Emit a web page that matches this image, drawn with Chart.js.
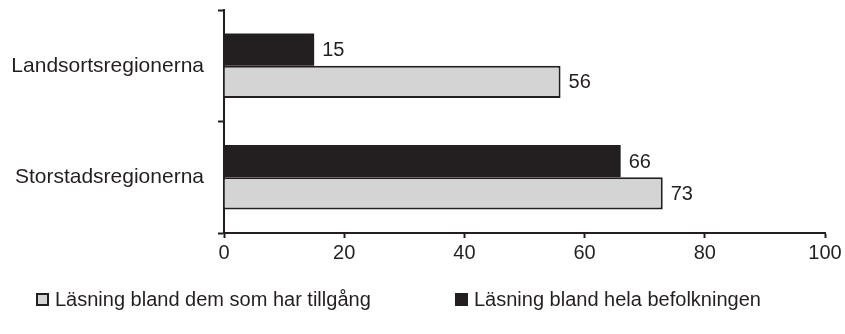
<!DOCTYPE html>
<html>
<head>
<meta charset="utf-8">
<script src="https://cdn.jsdelivr.net/npm/chart.js@4/dist/chart.umd.min.js"></script>
<style>
    html, body { margin: 0; padding: 0; background: #fff; }
    #wrap { position: relative; width: 845px; height: 334px; }
    #legend {
        position: absolute; left: 0; top: 288px; width: 845px; height: 22px;
        font: 20px 'Liberation Sans', Arial, sans-serif; color: #231f20;
    }
    #legend .item { position: absolute; top: 0; display: flex; align-items: center; height: 22px; white-space: nowrap; }
    #legend .box { box-sizing: border-box; width: 13px; height: 13px; margin-right: 6px; }
</style>
</head>
<body>
<div id="wrap">
    <canvas id="chart" width="845" height="334"></canvas>
    <div id="legend"></div>
</div>
<script>
// Chart data
const categories = ['Landsortsregionerna', 'Storstadsregionerna'];
const helaBefolkningen = [15, 66];
const demMedTillgang = [56, 73];
const seriesNames = ['Läsning bland hela befolkningen', 'Läsning bland dem som har tillgång'];

const FONT = '\'Liberation Sans\', Arial, sans-serif';
const INK = '#231f20';

// Write the value at the end of each bar
const pluginBarValues = {
    id: 'barValues',
    afterDatasetsDraw: function(chart) {
        'use strict';
        const ctx = chart.ctx;
        ctx.save();
        ctx.font = '20px ' + FONT;
        ctx.fillStyle = INK;
        ctx.textBaseline = 'middle';
        ctx.textAlign = 'left';
        chart.data.datasets.forEach(function(ds, i) {
            const meta = chart.getDatasetMeta(i);
            meta.data.forEach(function(bar, j) {
                ctx.fillText(String(ds.data[j]), bar.x + 8, bar.y + 1);
            });
        });
        ctx.restore();
    },
};

const chart = new Chart(document.getElementById('chart'), {
    type: 'bar',
    data: {
        labels: categories,
        datasets: [
            {
                label: seriesNames[0],
                data: helaBefolkningen,
                backgroundColor: INK,
                borderColor: INK,
                borderWidth: 0,
            },
            {
                label: seriesNames[1],
                data: demMedTillgang,
                backgroundColor: '#d4d4d4',
                borderColor: INK,
                borderWidth: 2,
                borderSkipped: 'start',
            },
        ],
    },
    options: {
        indexAxis: 'y',
        responsive: false,
        animation: false,
        categoryPercentage: 0.58,
        barPercentage: 1.0,
        layout: {padding: {top: 10, right: 20, bottom: 61, left: 0}},
        plugins: {
            legend: {display: false},
            tooltip: {enabled: false},
        },
        scales: {
            x: {
                type: 'linear',
                min: 0,
                max: 100,
                ticks: {stepSize: 20, color: INK, font: {family: FONT, size: 20}, padding: 3},
                grid: {drawOnChartArea: false, tickLength: 5, tickWidth: 2, color: INK},
                border: {color: INK, width: 2},
                afterFit: function(scale) {
                    scale.height = 40;
                    scale.paddingLeft = 0;
                    scale.paddingRight = 0;
                },
            },
            y: {
                ticks: {color: INK, font: {family: FONT, size: 21}, padding: 14},
                grid: {drawOnChartArea: false, tickLength: 6, tickWidth: 2, color: INK, offset: true},
                border: {color: INK, width: 2},
                afterFit: function(scale) {
                    scale.width = 224;
                    scale.paddingTop = 0;
                    scale.paddingBottom = 0;
                },
            },
        },
    },
    plugins: [pluginBarValues],
});

// Legend, gray series first as in the original
const legendPos = [{box: 36, idx: 1}, {box: 455, idx: 0}];
const legendEl = document.getElementById('legend');
for (const p of legendPos) {
    const ds = chart.data.datasets[p.idx];
    const item = document.createElement('div');
    item.className = 'item';
    item.style.left = p.box + 'px';
    const box = document.createElement('span');
    box.className = 'box';
    box.style.background = ds.backgroundColor;
    box.style.border = '2px solid ' + INK;
    item.appendChild(box);
    item.appendChild(document.createTextNode(ds.label));
    legendEl.appendChild(item);
}
</script>
</body>
</html>
